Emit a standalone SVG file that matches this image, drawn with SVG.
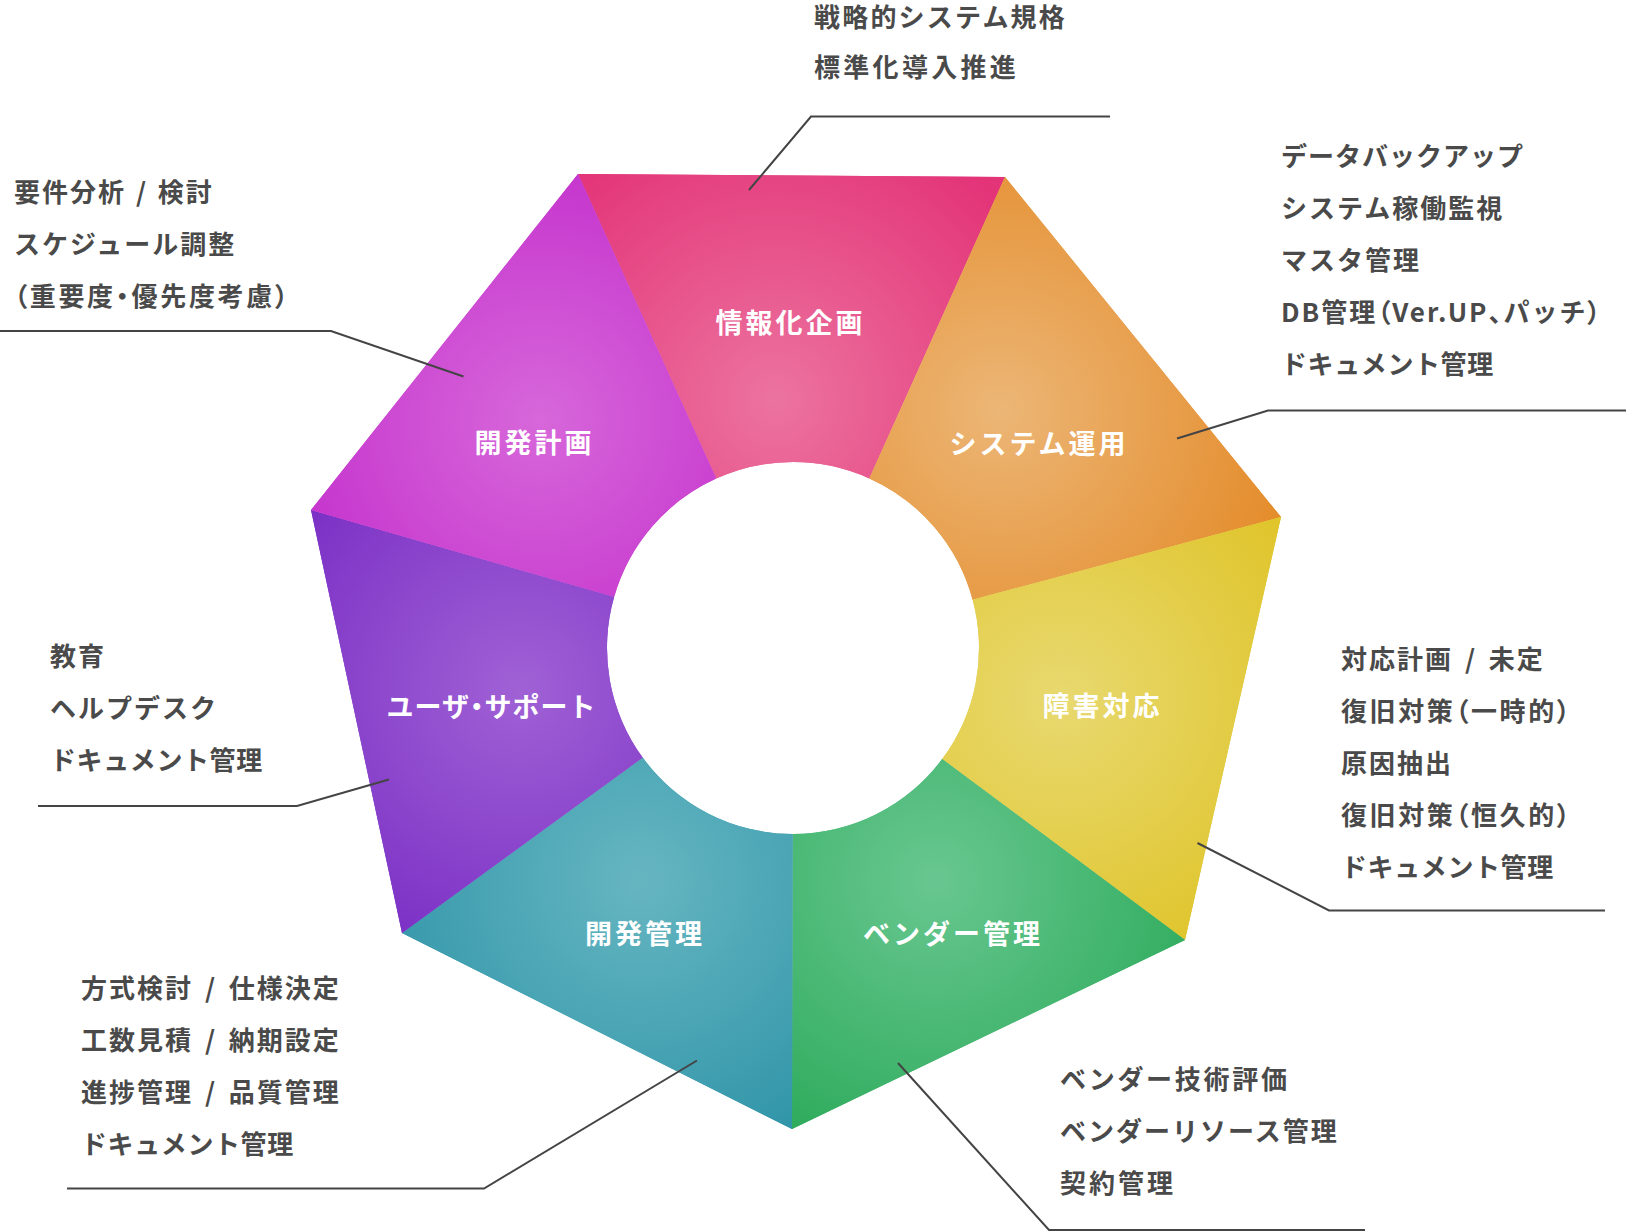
<svg xmlns="http://www.w3.org/2000/svg" xmlns:xlink="http://www.w3.org/1999/xlink" width="1626" height="1232" viewBox="0 0 1626 1232">
  <defs>
    <style>
      .desc { font-family: "Noto Sans CJK JP", "Noto Sans", sans-serif; font-size: 26px; font-weight: 700; fill: #4a4a4a; letter-spacing: 2px; }
      .lbl { font-family: "Noto Sans CJK JP", "Noto Sans", sans-serif; font-size: 27px; font-weight: 700; fill: #ffffff; letter-spacing: 3px; text-anchor: middle; }
      .p { font-feature-settings: "palt" 1; }
      .sl { word-spacing: 4px; }
      .dk { letter-spacing: 0.6px; }
      .lead { fill: none; stroke: #444444; stroke-width: 2; }
      .str { fill: url(#stripes); }
    </style>
    <pattern id="stripes" patternUnits="userSpaceOnUse" width="4" height="4" patternTransform="rotate(45)">
      <rect x="0" y="0" width="1.6" height="4" fill="#000000" fill-opacity="0.12"/>
      <rect x="2.2" y="0" width="1" height="4" fill="#ffffff" fill-opacity="0.08"/>
    </pattern>
    <radialGradient id="gPink" gradientUnits="userSpaceOnUse" cx="775" cy="400" r="300">
      <stop offset="0" stop-color="#ec739f"/>
      <stop offset="1" stop-color="#e33478"/>
    </radialGradient>
    <radialGradient id="gOrange" gradientUnits="userSpaceOnUse" cx="1000" cy="410" r="300">
      <stop offset="0" stop-color="#ecb676"/>
      <stop offset="1" stop-color="#e48c2b"/>
    </radialGradient>
    <radialGradient id="gYellow" gradientUnits="userSpaceOnUse" cx="1060" cy="700" r="300">
      <stop offset="0" stop-color="#e8d970"/>
      <stop offset="1" stop-color="#dfc326"/>
    </radialGradient>
    <radialGradient id="gGreen" gradientUnits="userSpaceOnUse" cx="935" cy="880" r="300">
      <stop offset="0" stop-color="#68c790"/>
      <stop offset="1" stop-color="#2caa5a"/>
    </radialGradient>
    <radialGradient id="gTeal" gradientUnits="userSpaceOnUse" cx="640" cy="880" r="300">
      <stop offset="0" stop-color="#66b6c1"/>
      <stop offset="1" stop-color="#2f94a8"/>
    </radialGradient>
    <radialGradient id="gPurple" gradientUnits="userSpaceOnUse" cx="520" cy="690" r="300">
      <stop offset="0" stop-color="#a061d5"/>
      <stop offset="1" stop-color="#782cc4"/>
    </radialGradient>
    <radialGradient id="gMagenta" gradientUnits="userSpaceOnUse" cx="540" cy="420" r="300">
      <stop offset="0" stop-color="#d767da"/>
      <stop offset="1" stop-color="#c22ccb"/>
    </radialGradient>
  </defs>

  <rect x="0" y="0" width="1626" height="1232" fill="#ffffff"/>

  <g id="node-jouhouka">
    <path id="w0" fill="url(#gPink)" d="M716.17,478.61 L578,174 L1005,177 L869.34,478.39 A186,186 0 0 0 716.17,478.61 Z"/>
    <use xlink:href="#w0" href="#w0" class="str"/>
    <text class="lbl" x="790.5" y="333">情報化企画</text>
  </g>

  <g id="node-system">
    <path id="w1" fill="url(#gOrange)" d="M869.34,478.39 L1005,177 L1281,517 L972.64,599.78 A186,186 0 0 0 869.34,478.39 Z"/>
    <use xlink:href="#w1" href="#w1" class="str"/>
    <text class="lbl" x="1039" y="454">システム運用</text>
  </g>

  <g id="node-shougai">
    <path id="w2" fill="url(#gYellow)" d="M972.64,599.78 L1281,517 L1185,940 L942.16,759.11 A186,186 0 0 0 972.64,599.78 Z"/>
    <use xlink:href="#w2" href="#w2" class="str"/>
    <text class="lbl" x="1102.5" y="716">障害対応</text>
  </g>

  <g id="node-vendor">
    <path id="w3" fill="url(#gGreen)" d="M942.16,759.11 L1185,940 L792,1129 L792.61,834 A186,186 0 0 0 942.16,759.11 Z"/>
    <use xlink:href="#w3" href="#w3" class="str"/>
    <text class="lbl" x="953" y="944">ベンダー管理</text>
  </g>

  <g id="node-kaihatsu-kanri">
    <path id="w4" fill="url(#gTeal)" d="M792.61,834 L792,1129 L402,933 L642.69,757.56 A186,186 0 0 0 792.61,834 Z"/>
    <use xlink:href="#w4" href="#w4" class="str"/>
    <text class="lbl" x="645" y="944">開発管理</text>
  </g>

  <g id="node-user-support">
    <path id="w5" fill="url(#gPurple)" d="M642.69,757.56 L402,933 L311,510 L614.18,596.8 A186,186 0 0 0 642.69,757.56 Z"/>
    <use xlink:href="#w5" href="#w5" class="str"/>
    <text class="lbl" x="491.5" y="717" style="letter-spacing:1px">ユーザ<tspan class="p">・</tspan>サポート</text>
  </g>

  <g id="node-kaihatsu-keikaku">
    <path id="w6" fill="url(#gMagenta)" d="M614.18,596.8 L311,510 L578,174 L716.17,478.61 A186,186 0 0 0 614.18,596.8 Z"/>
    <use xlink:href="#w6" href="#w6" class="str"/>
    <text class="lbl" x="534.5" y="453">開発計画</text>
  </g>

  <g id="connectors">
    <polyline class="lead" points="1110,116.5 811,116.5 749,190"/>
    <polyline class="lead" points="0,331 331,331 463.5,376.5"/>
    <polyline class="lead" points="1626,410.5 1268,410.5 1177,438.5"/>
    <polyline class="lead" points="38,806 297,806 389,779.5"/>
    <polyline class="lead" points="1605,910.5 1329,910.5 1197.5,843"/>
    <polyline class="lead" points="67,1188.5 484,1188.5 697,1060.5"/>
    <polyline class="lead" points="1365,1230 1049,1230 898,1063"/>
  </g>

  <g id="desc-jouhouka">
    <text class="desc" x="814" y="27" style="letter-spacing:2.2px">戦略的システム規格</text>
    <text class="desc" x="814" y="77" style="letter-spacing:3.3px">標準化導入推進</text>
  </g>
  <g id="desc-kaihatsu-keikaku">
    <text class="desc" x="14" y="202" style="word-spacing:2px">要件分析 / 検討</text>
    <text class="desc" x="14" y="254">スケジュール調整</text>
    <text class="desc" x="14" y="306" style="letter-spacing:2.7px"><tspan class="p">（</tspan>重要度<tspan class="p">・</tspan>優先度考慮<tspan class="p">）</tspan></text>
  </g>
  <g id="desc-system">
    <text class="desc" x="1281" y="166" style="letter-spacing:1px">データバックアップ</text>
    <text class="desc" x="1281" y="218">システム稼働監視</text>
    <text class="desc" x="1281" y="270">マスタ管理</text>
    <text class="desc" x="1281" y="322">DB管理<tspan class="p">（</tspan>Ver.UP<tspan class="p">、</tspan>パッチ<tspan class="p">）</tspan></text>
    <text class="desc dk" x="1281" y="374">ドキュメント管理</text>
  </g>
  <g id="desc-user-support">
    <text class="desc" x="50" y="666">教育</text>
    <text class="desc" x="50" y="718">ヘルプデスク</text>
    <text class="desc dk" x="50" y="770">ドキュメント管理</text>
  </g>
  <g id="desc-shougai">
    <text class="desc sl" x="1341" y="669">対応計画 / 未定</text>
    <text class="desc" x="1341" y="721" style="letter-spacing:2.6px">復旧対策<tspan class="p">（</tspan>一時的<tspan class="p">）</tspan></text>
    <text class="desc" x="1341" y="773">原因抽出</text>
    <text class="desc" x="1341" y="825" style="letter-spacing:2.6px">復旧対策<tspan class="p">（</tspan>恒久的<tspan class="p">）</tspan></text>
    <text class="desc dk" x="1341" y="877">ドキュメント管理</text>
  </g>
  <g id="desc-kaihatsu-kanri">
    <text class="desc sl" x="81" y="998">方式検討 / 仕様決定</text>
    <text class="desc sl" x="81" y="1050">工数見積 / 納期設定</text>
    <text class="desc sl" x="81" y="1102">進捗管理 / 品質管理</text>
    <text class="desc dk" x="81" y="1154">ドキュメント管理</text>
  </g>
  <g id="desc-vendor">
    <text class="desc" x="1060" y="1089" style="letter-spacing:2.7px">ベンダー技術評価</text>
    <text class="desc" x="1060" y="1141">ベンダーリソース管理</text>
    <text class="desc" x="1060" y="1193" style="letter-spacing:3px">契約管理</text>
  </g>
</svg>
